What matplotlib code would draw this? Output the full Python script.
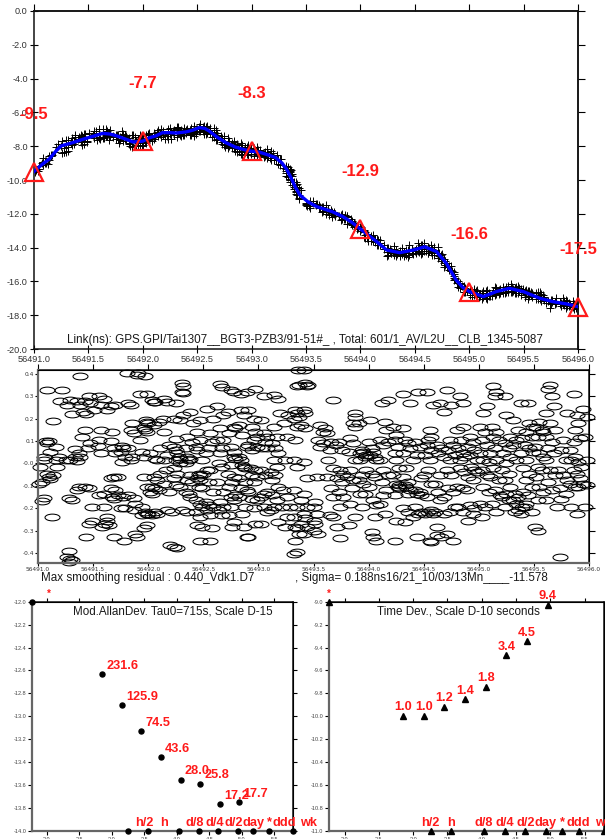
import numpy as np
import matplotlib
matplotlib.use("Agg")
import matplotlib.pyplot as plt
from matplotlib.path import Path
from matplotlib.transforms import Affine2D
from matplotlib.ticker import FormatStrFormatter

plt.rcParams['font.family'] = ['Liberation Sans', 'DejaVu Sans']
plt.rcParams['axes.unicode_minus'] = False

MJD0 = 56491.0

# smoothed link (ns) versus day offset from MJD0
smooth_day = [0.00, 0.07, 0.14, 0.20, 0.25, 0.35, 0.45, 0.55, 0.63, 0.70, 0.76, 0.85,
              0.91, 1.00, 1.06, 1.12, 1.18, 1.25, 1.31, 1.40, 1.46, 1.52, 1.57, 1.61,
              1.68, 1.76, 1.85, 1.93, 2.00, 2.07, 2.13, 2.22, 2.28, 2.32, 2.36, 2.40,
              2.445, 2.52, 2.60, 2.74, 2.84, 2.92, 3.00, 3.08, 3.15, 3.24, 3.36, 3.49,
              3.59, 3.70, 3.79, 3.88, 3.94, 4.00, 4.13, 4.25, 4.37, 4.50, 4.65, 4.77,
              4.90, 5.00]
smooth_ns = [-9.5, -9.1, -8.76, -8.3, -7.98, -7.8, -7.59, -7.4, -7.24, -7.28, -7.39, -7.6,
             -7.75, -7.7, -7.5, -7.39, -7.2, -7.2, -7.22, -7.15, -7.05, -6.9, -6.95, -7.1,
             -7.45, -7.78, -8.05, -8.2, -8.3, -8.35, -8.47, -8.67, -9.0, -9.35, -9.84, -10.4,
             -10.9, -11.3, -11.58, -11.87, -12.17, -12.5, -12.9, -13.3, -13.65, -14.14, -14.3, -14.14,
             -13.95, -14.24, -14.93, -15.92, -16.35, -16.6, -16.9, -16.6, -16.41, -16.61, -17.0, -17.2,
             -17.34, -17.5]

# daily values marked with triangles
node_day = [0, 1, 2, 3, 4, 5]
node_ns = [-9.5, -7.7, -8.3, -12.9, -16.6, -17.5]

# smoothing residuals (day offset, ns)
residuals = [
    (0.07, .10), (0.10, .10), (0.08, .09), (0.11, .05), (0.05, .03), (0.05, .015), (0.02, -.015),
    (0.08, -.045), (0.10, -.06), (0.11, -.07), (0.04, -.085), (0.01, -.09), (0.05, -.155), (0.04, -.17),
    (0.08, .33), (0.22, .33), (0.14, .19), (0.16, .075), (0.19, .03), (0.16, .015), (0.14, -.05),
    (0.13, -.24), (0.17, -.015), (0.20, .28), (0.29, .285), (0.26, .26), (0.31, .22), (0.25, .015),
    (0.34, .03), (0.29, .015), (0.28, -.155), (0.31, -.165), (0.28, -.39), (0.29, -.425), (0.31, -.43),
    (0.28, -.44), (0.26, -.42), (0.35, .28), (0.38, .26), (0.41, .23), (0.40, .12), (0.34, .065),
    (0.37, .045), (0.38, .03), (0.35, .01), (0.35, -.12), (0.37, -.105), (0.38, .39), (0.43, .28),
    (0.46, .30), (0.47, .27), (0.51, .24), (0.44, .22), (0.43, .15), (0.47, .09), (0.45, .067),
    (0.43, -.105), (0.46, -.11), (0.49, -.195), (0.49, -.255), (0.46, -.27), (0.44, -.33), (0.55, .30),
    (0.60, .29), (0.57, .26), (0.63, .24), (0.57, .15), (0.55, .105), (0.54, .078), (0.57, .045),
    (0.55, -.14), (0.60, -.135), (0.60, -.195), (0.63, -.255), (0.64, -.275), (0.61, -.27), (0.58, -.285),
    (0.63, -.24), (0.66, .255), (0.70, .26), (0.67, .14), (0.66, .10), (0.69, .067), (0.70, .045),
    (0.66, -.067), (0.69, -.06), (0.66, -.11), (0.70, -.12), (0.67, -.15), (0.69, -.157), (0.69, -.33),
    (0.73, -.06), (0.76, .08), (0.77, .067), (0.75, .05), (0.79, .03), (0.76, .007), (0.73, -.14),
    (0.77, -.15), (0.79, -.20), (0.75, -.20), (0.78, -.345), (0.82, .27), (0.81, .405), (0.84, .26),
    (0.85, .18), (0.84, .15), (0.87, .135), (0.82, .067), (0.85, .03), (0.84, .015), (0.82, -.14),
    (0.87, -.155), (0.88, -.18), (0.87, -.21), (0.88, -.315), (0.90, -.33), (0.91, .405), (0.90, .395),
    (0.93, .31), (0.99, .31), (0.97, .39), (0.98, .195), (0.99, .185), (1.00, .18), (0.96, .157),
    (0.97, .15), (0.99, .14), (0.93, .105), (0.94, .052), (0.96, .03), (0.96, -.06), (0.99, -.105),
    (0.94, -.195), (0.97, -.215), (0.99, -.225), (1.00, -.225), (0.94, -.23), (0.99, -.275), (0.96, -.29),
    (1.03, .285), (1.05, .275), (1.06, .275), (1.10, .185), (1.05, .17), (1.02, .045), (1.06, .022),
    (1.08, .015), (1.05, -.06), (1.08, -.075), (1.03, -.105), (1.06, -.11), (1.10, -.12), (1.02, -.127),
    (1.03, -.135), (1.06, -.217), (1.08, -.225), (1.03, -.232), (1.14, .29), (1.17, .275), (1.13, .20),
    (1.14, .14), (1.11, .067), (1.19, .082), (1.17, .037), (1.14, .015), (1.16, -.03), (1.11, -.045),
    (1.14, -.09), (1.19, -.127), (1.17, -.21), (1.20, -.365), (1.23, -.373), (1.25, .27), (1.31, .36),
    (1.32, .345), (1.31, .32), (1.32, .315), (1.23, .20), (1.29, .195), (1.25, .11), (1.23, .075),
    (1.25, .06), (1.26, .045), (1.28, .03), (1.29, .022), (1.25, .015), (1.29, .0), (1.23, -.022),
    (1.26, -.045), (1.23, -.067), (1.25, -.097), (1.29, -.105), (1.22, -.217), (1.26, -.38), (1.32, .215),
    (1.38, .23), (1.35, .12), (1.40, .097), (1.34, .067), (1.35, .03), (1.38, .022), (1.37, .015),
    (1.34, .0), (1.38, -.052), (1.35, -.075), (1.40, -.082), (1.34, -.127), (1.37, -.135), (1.38, -.15),
    (1.31, -.21), (1.35, -.217), (1.41, .18), (1.47, .195), (1.44, .14), (1.47, .105), (1.43, .075),
    (1.44, .06), (1.49, .015), (1.46, -.045), (1.47, -.052), (1.44, -.067), (1.47, -.075), (1.46, -.105),
    (1.49, -.11), (1.43, -.165), (1.47, -.18), (1.49, -.195), (1.43, -.217), (1.47, -.24), (1.44, -.275),
    (1.49, -.285), (1.47, -.345), (1.53, .245), (1.59, .20), (1.56, .135), (1.58, .097), (1.55, .067),
    (1.52, .045), (1.53, -.03), (1.56, -.03), (1.50, -.045), (1.55, -.082), (1.59, -.127), (1.52, -.172),
    (1.55, -.187), (1.59, -.195), (1.53, -.21), (1.56, -.23), (1.58, -.29), (1.56, -.345), (1.65, .355),
    (1.67, .34), (1.62, .255), (1.68, .215), (1.65, .157), (1.62, .105), (1.68, .105), (1.67, .067),
    (1.65, .045), (1.64, .0), (1.67, -.015), (1.62, -.082), (1.68, -.127), (1.65, -.172), (1.68, -.195),
    (1.64, -.21), (1.67, -.23), (1.75, .33), (1.78, .32), (1.72, .23), (1.78, .165), (1.79, .157),
    (1.73, .135), (1.75, .075), (1.78, .052), (1.78, .03), (1.79, .022), (1.75, -.007), (1.72, -.045),
    (1.78, -.06), (1.76, -.082), (1.73, -.105), (1.79, -.142), (1.75, -.15), (1.78, -.165), (1.75, -.195),
    (1.73, -.232), (1.78, -.26), (1.76, -.283), (1.84, .31), (1.90, .32), (1.84, .24), (1.87, .215),
    (1.82, .17), (1.85, .127), (1.90, .075), (1.82, .03), (1.84, .015), (1.85, -.007), (1.87, -.015),
    (1.88, -.022), (1.82, -.067), (1.88, -.082), (1.84, -.11), (1.90, -.12), (1.82, -.15), (1.88, -.195),
    (1.85, -.225), (1.87, -.285), (1.90, -.33), (1.97, .335), (1.91, .24), (1.96, .20), (1.94, .165),
    (1.97, .142), (1.99, .12), (1.96, .105), (1.91, .082), (1.94, .06), (1.99, .075), (1.93, -.022),
    (1.97, -.03), (1.94, -.052), (1.99, -.06), (1.96, -.082), (1.91, -.127), (1.94, -.157), (1.99, -.165),
    (1.96, -.20), (1.97, -.27), (1.91, -.33), (2.05, .30), (2.02, .195), (2.05, .135), (2.08, .12),
    (2.06, .097), (2.03, .067), (2.08, .067), (2.02, -.03), (2.06, -.052), (2.05, -.135), (2.08, -.127),
    (2.02, -.15), (2.05, -.195), (2.08, -.217), (2.02, -.27), (2.14, .305), (2.18, .29), (2.20, .225),
    (2.14, .165), (2.17, .12), (2.12, .09), (2.15, .067), (2.18, .045), (2.14, .015), (2.17, -.015),
    (2.11, -.037), (2.15, -.052), (2.12, -.075), (2.18, -.105), (2.12, -.142), (2.17, -.165), (2.14, -.195),
    (2.11, -.21), (2.18, -.26), (2.24, .015), (2.23, .18), (2.27, .215), (2.26, .12), (2.22, -.12),
    (2.26, -.15), (2.21, -.195), (2.26, -.24), (2.24, -.285), (2.29, -.195), (2.36, .42), (2.35, .345),
    (2.37, .35), (2.33, .24), (2.35, .225), (2.37, .21), (2.32, .20), (2.35, .165), (2.33, .105),
    (2.32, .015), (2.35, -.015), (2.32, -.12), (2.35, -.195), (2.32, -.24), (2.33, -.285), (2.35, -.29),
    (2.37, -.315), (2.33, -.345), (2.32, -.405), (2.35, -.395), (2.41, .42), (2.42, .36), (2.44, .345),
    (2.45, .35), (2.41, .24), (2.42, .225), (2.39, .17), (2.42, .157), (2.41, .007), (2.44, -.067),
    (2.41, -.135), (2.39, -.165), (2.44, -.195), (2.41, -.225), (2.42, -.245), (2.39, -.27), (2.44, -.285),
    (2.41, -.315), (2.56, .17), (2.60, .157), (2.59, .142), (2.54, .105), (2.59, .09), (2.56, .075),
    (2.53, -.06), (2.51, -.172), (2.50, -.195), (2.53, -.225), (2.50, -.255), (2.51, -.27), (2.50, -.30),
    (2.54, -.315), (2.68, .285), (2.62, .135), (2.66, .097), (2.65, .06), (2.63, .015), (2.68, -.022),
    (2.62, -.06), (2.66, -.11), (2.68, -.15), (2.65, -.232), (2.68, -.24), (2.71, -.285), (2.74, -.335),
    (2.74, -.03), (2.77, -.045), (2.71, -.067), (2.76, -.082), (2.73, -.127), (2.77, -.15), (2.74, -.195),
    (2.76, .06), (2.70, .082), (2.73, .097), (2.88, .225), (2.88, .21), (2.86, .18), (2.88, .165),
    (2.83, .112), (2.86, .09), (2.82, .052), (2.88, .015), (2.83, -.03), (2.80, -.06), (2.86, -.075),
    (2.85, -.11), (2.83, -.18), (2.88, -.24), (2.82, -.275), (2.91, .18), (2.94, .06), (2.95, .052),
    (2.92, .045), (2.98, .037), (2.97, .03), (2.92, .015), (2.98, -.03), (2.94, -.052), (2.91, -.075),
    (2.95, -.09), (2.92, -.135), (2.97, -.135), (2.94, -.195), (3.01, .195), (3.00, .097), (3.03, .067),
    (3.04, .052), (3.01, .037), (3.06, .03), (3.07, .015), (3.03, -.045), (3.06, -.06), (3.00, -.105),
    (3.04, -.165), (3.07, -.187), (3.06, -.24), (3.03, -.305), (3.07, -.345), (3.04, -.33), (3.12, .27),
    (3.18, .285), (3.15, .185), (3.16, .15), (3.10, .105), (3.13, .082), (3.18, .097), (3.10, .015),
    (3.13, -.03), (3.18, -.052), (3.12, -.082), (3.16, -.12), (3.13, -.142), (3.10, -.18), (3.15, -.225),
    (3.22, .165), (3.25, .127), (3.24, .105), (3.27, .075), (3.24, .045), (3.25, .015), (3.28, -.022),
    (3.22, -.052), (3.25, -.09), (3.28, -.097), (3.27, -.105), (3.24, -.142), (3.28, -.11), (3.25, -.255),
    (3.24, -.345), (3.31, .31), (3.38, .27), (3.31, .157), (3.33, .105), (3.36, .09), (3.38, .067),
    (3.31, .045), (3.34, -.022), (3.31, -.06), (3.36, -.082), (3.33, -.097), (3.34, -.105), (3.38, -.12),
    (3.36, -.135), (3.31, -.20), (3.36, -.217), (3.33, -.262), (3.45, .32), (3.42, .097), (3.47, .075),
    (3.44, .037), (3.40, .015), (3.48, -.067), (3.42, -.12), (3.47, -.127), (3.44, -.135), (3.48, -.142),
    (3.42, -.195), (3.48, -.217), (3.45, -.225), (3.40, -.24), (3.44, -.33), (3.53, .32), (3.58, .26),
    (3.56, .15), (3.57, .12), (3.54, .105), (3.53, .082), (3.57, .06), (3.51, .037), (3.56, .015),
    (3.54, -.03), (3.50, -.052), (3.57, -.09), (3.53, -.15), (3.57, -.21), (3.58, -.225), (3.54, -.217),
    (3.51, -.225), (3.56, -.345), (3.57, -.35), (3.65, .27), (3.68, .23), (3.62, .082), (3.66, .067),
    (3.63, .045), (3.68, .03), (3.65, -.052), (3.60, -.09), (3.63, -.127), (3.68, -.15), (3.65, -.165),
    (3.60, -.217), (3.68, -.225), (3.62, -.285), (3.66, -.33), (3.62, -.32), (3.71, .33), (3.75, .26),
    (3.74, .105), (3.77, .082), (3.72, .06), (3.78, .037), (3.74, .015), (3.71, -.03), (3.75, -.052),
    (3.72, -.11), (3.77, -.127), (3.74, -.217), (3.78, -.195), (3.71, -.315), (3.77, -.345), (3.83, .30),
    (3.86, .27), (3.80, .15), (3.86, .165), (3.84, .105), (3.81, .067), (3.86, .045), (3.83, .015),
    (3.87, .03), (3.83, -.022), (3.87, -.037), (3.80, -.105), (3.86, -.11), (3.89, -.12), (3.81, -.195),
    (3.86, -.217), (3.92, .12), (3.95, .097), (3.90, .075), (3.96, .06), (3.92, .037), (3.98, .015),
    (3.93, -.015), (3.96, -.03), (3.90, -.06), (3.95, -.075), (3.98, -.037), (3.92, -.187), (3.96, -.20),
    (3.95, -.225), (3.90, -.255), (4.07, .255), (4.04, .225), (4.01, .165), (4.06, .142), (4.03, .105),
    (4.07, .082), (4.01, .045), (4.04, .015), (4.09, .007), (4.03, -.03), (4.07, -.052), (4.04, -.105),
    (4.09, -.127), (4.01, -.18), (4.06, -.195), (4.03, -.24), (4.13, .345), (4.16, .32), (4.15, .30),
    (4.12, .165), (4.16, .142), (4.13, .12), (4.18, .105), (4.15, .067), (4.10, .045), (4.16, .015),
    (4.13, -.022), (4.10, -.06), (4.18, -.075), (4.15, -.12), (4.19, -.142), (4.12, -.18), (4.16, -.217),
    (4.24, .30), (4.25, .215), (4.28, .12), (4.24, .09), (4.27, .067), (4.22, .045), (4.28, .03),
    (4.25, .0), (4.21, -.03), (4.27, -.045), (4.24, -.075), (4.28, -.105), (4.25, -.135), (4.21, -.15),
    (4.27, -.165), (4.24, -.195), (4.33, -.135), (4.36, -.15), (4.31, -.165), (4.34, -.18), (4.39, -.195),
    (4.36, -.21), (4.38, -.225), (4.33, -.217), (4.34, .015), (4.38, .045), (4.31, .082), (4.39, .112),
    (4.36, .15), (4.31, .195), (4.38, .27), (4.34, .105), (4.45, .27), (4.46, .18), (4.49, .165),
    (4.43, .142), (4.48, .12), (4.42, .082), (4.46, .067), (4.49, .052), (4.43, .015), (4.40, -.022),
    (4.46, -.045), (4.43, -.075), (4.48, -.105), (4.40, -.127), (4.45, -.142), (4.42, -.195), (4.48, -.217),
    (4.43, -.18), (4.55, .185), (4.52, .165), (4.57, .15), (4.58, .142), (4.54, .12), (4.51, .075),
    (4.55, .045), (4.58, .03), (4.54, -.015), (4.57, -.03), (4.52, -.06), (4.55, -.105), (4.58, -.127),
    (4.54, -.165), (4.51, -.285), (4.54, -.30), (4.65, .35), (4.63, .335), (4.66, .30), (4.68, .255),
    (4.61, .225), (4.65, .18), (4.69, .15), (4.61, .12), (4.66, .097), (4.63, .067), (4.68, .045),
    (4.61, .015), (4.65, -.03), (4.69, -.052), (4.63, -.082), (4.66, -.12), (4.61, -.165), (4.75, .06),
    (4.76, .105), (4.80, .225), (4.74, -.42), (4.79, .015), (4.72, -.03), (4.76, -.052), (4.80, -.075),
    (4.74, -.11), (4.79, -.135), (4.75, -.157), (4.71, -.195), (4.86, .31), (4.89, .215), (4.90, .18),
    (4.87, .15), (4.92, .112), (4.86, .097), (4.83, .06), (4.87, .03), (4.84, .015), (4.90, .007),
    (4.93, -.015), (4.86, -.03), (4.89, -.045), (4.92, -.067), (4.83, -.09), (4.87, -.105), (4.90, -.105),
    (4.95, -.09), (4.98, -.097), (4.84, -.195), (4.96, -.195), (4.89, -.225), (4.98, .015), (4.96, .12),
    (4.98, .21), (4.95, .245),
]

# stability statistics
tau_s = [715, 1430, 2860, 5720, 11440, 22880, 45760, 91520]
mdev_e15 = [231.6, 125.9, 74.5, 43.6, 28.0, 25.8, 17.2, 17.7]
tdev_e10 = [1.0, 1.0, 1.2, 1.4, 1.8, 3.4, 4.5, 9.4]

# reference averaging spans
span_names = ['h/2', 'h', 'd/8', 'd/4', 'd/2', 'day', '*', 'ddd', 'wk']
span_s = [1800, 3600, 10800, 21600, 43200, 86400, 150000, 259200, 604800]
tau_range_s = [60, 604800]

RED = '#ff1a1a'
GRAY = '#333333'
W, H = 605, 839


def rect(l, t, r, b):
    return [l / W, 1 - b / H, (r - l) / W, (b - t) / H]


def outer_ticks(ax, xt, yt, length=4):
    sx = ax.secondary_xaxis('top')
    sx.set_xticks(xt)
    sx.tick_params(direction='out', length=length, width=0.8, labeltop=False)
    sy = ax.secondary_yaxis('right')
    sy.set_yticks(yt)
    sy.tick_params(direction='out', length=length, width=0.8, labelright=False)
    for s in (sx, sy):
        for sp in s.spines.values():
            sp.set_color('#111111')
            sp.set_linewidth(1.1)


fig = plt.figure(figsize=(W / 100, H / 100), dpi=100)

# ---------------- link time series ----------------
ax1 = fig.add_axes(rect(34, 11, 578, 349))
res_t = np.array([p[0] for p in residuals])
res_v = np.array([p[1] for p in residuals])
raw = np.interp(res_t, smooth_day, smooth_ns) + res_v
ax1.plot(MJD0 + res_t, raw, ls='none', marker='+', ms=5.5, mew=0.7, color='black', zorder=2)
ax1.plot(MJD0 + np.array(smooth_day), smooth_ns, color='#0000ff', lw=2.4, zorder=3)
ax1.plot(MJD0 + np.array(node_day), node_ns, ls='none', marker='^', ms=12.5, mfc='none',
         mec=RED, mew=1.6, zorder=4, clip_on=False)
for d, v in zip(node_day, node_ns):
    ax1.text(MJD0 + d, v + 3.4, f'{v:.1f}', color=RED, fontsize=12, fontweight='bold',
             ha='center', va='center', zorder=5)
ax1.set_xlim(MJD0, MJD0 + 5)
ax1.set_ylim(-20, 0)
xt1 = MJD0 + np.arange(0, 5.01, 0.5)
yt1 = np.arange(-20, 0.1, 2)
ax1.set_xticks(xt1)
ax1.set_yticks(yt1)
ax1.xaxis.set_major_formatter(FormatStrFormatter('%.1f'))
ax1.yaxis.set_major_formatter(FormatStrFormatter('%.1f'))
ax1.tick_params(direction='inout', length=6, width=0.8, labelsize=6.6, labelcolor=GRAY, pad=1.5)
for sp in ax1.spines.values():
    sp.set_color('#111111')
    sp.set_linewidth(1.1)
outer_ticks(ax1, xt1, yt1, 5)
fig.text(305 / W, 1 - 340 / H,
         'Link(ns): GPS.GPI/Tai1307__BGT3-PZB3/91-51#_ , Total: 601/1_AV/L2U__CLB_1345-5087',
         ha='center', va='center', fontsize=8.4, color='#1a1a1a')

# ---------------- residuals ----------------
ax2 = fig.add_axes(rect(38, 370, 589, 563))
ellipse = Path.unit_circle().transformed(Affine2D().scale(1.0, 0.45))
ax2.plot(MJD0 + res_t, res_v, ls='none', marker=ellipse, ms=10.8, mfc='none', mec='black',
         mew=0.75, clip_on=False)
ax2.set_xlim(MJD0, MJD0 + 5)
ax2.set_ylim(-0.445, 0.418)
yt2 = np.arange(-0.4, 0.41, 0.1)
ax2.set_xticks(xt1)
ax2.set_yticks(yt2)
ax2.xaxis.set_major_formatter(FormatStrFormatter('%.1f'))
ax2.yaxis.set_major_formatter(FormatStrFormatter('%.1f'))
ax2.tick_params(direction='out', length=2, width=0.8, labelsize=4.2, labelcolor=GRAY, pad=0.6)
for lbl in ax2.get_xticklabels() + ax2.get_yticklabels():
    lbl.set_family('DejaVu Sans')
ax2.spines['left'].set_color('#666666')
ax2.spines['bottom'].set_color('#666666')
ax2.spines['left'].set_linewidth(1.6)
ax2.spines['bottom'].set_linewidth(1.6)
outer_ticks(ax2, xt1, yt2, 4)
fig.text(41 / W, 1 - 577.5 / H, 'Max smoothing residual : 0.440_Vdk1.D7',
         ha='left', va='center', fontsize=8.4, color='#1a1a1a')
fig.text(295 / W, 1 - 577.5 / H, ', Sigma= 0.188ns16/21_10/03/13Mn____-11.578',
         ha='left', va='center', fontsize=8.4, color='#1a1a1a')

# ---------------- stability panels ----------------
narrow = ['Liberation Sans Narrow', 'Liberation Sans']
log_tau = np.log10(tau_s)
log_span = np.log10(span_s)
xt3 = np.arange(2.0, 5.51, 0.5)


def stab_frame(ax, ylo, yhi, title, title_x):
    ax.set_xlim(np.log10(tau_range_s[0]), np.log10(tau_range_s[1]))
    ax.set_ylim(ylo, yhi)
    yt = np.arange(ylo, yhi + 0.01, 0.2)
    ax.set_xticks(xt3)
    ax.set_yticks(yt)
    ax.xaxis.set_major_formatter(FormatStrFormatter('%.1f'))
    ax.yaxis.set_major_formatter(FormatStrFormatter('%.1f'))
    ax.tick_params(direction='out', length=3, width=0.8, labelsize=4, labelcolor='#444444', pad=1.2)
    ax.spines['left'].set_color('#666666')
    ax.spines['bottom'].set_color('#666666')
    ax.spines['left'].set_linewidth(1.6)
    ax.spines['bottom'].set_linewidth(1.6)
    outer_ticks(ax, xt3, yt, 3)
    fig.text(title_x / W, 1 - 611 / H, title, ha='center', va='center', fontsize=8.4,
             color='#1a1a1a')


ax3 = fig.add_axes(rect(32.3, 601.7, 292.7, 830.7))
stab_frame(ax3, -14.0, -12.0, 'Mod.AllanDev. Tau0=715s, Scale D-15', 173)
mdev_log = np.log10(np.array(mdev_e15) * 1e-15)
ax3.plot(log_tau, mdev_log, ls='none', marker='o', ms=3.6, color='black', clip_on=False, zorder=4)
for x, y, v in zip(log_tau, mdev_log, mdev_e15):
    ax3.annotate(f'{v:.1f}', (x, y), xytext=(3, 1.5), textcoords='offset points', ha='left',
                 va='bottom', color=RED, fontsize=9.2, fontweight='bold', family=narrow)
ax3.plot(log_span, [-14.0] * len(log_span), ls='none', marker='o', ms=3.6, color='black',
         clip_on=False, zorder=4)
ax3.plot([np.log10(tau_range_s[0])], [-12.0], ls='none', marker='o', ms=3.6, color='black',
         clip_on=False, zorder=4)
for x, name in zip(log_span, span_names):
    ax3.annotate(name, (x, -14.0), xytext=(11.5, 1.5), textcoords='offset points', ha='center',
                 va='bottom', color=RED, fontsize=9.2, fontweight='bold', family=narrow,
                 annotation_clip=False)
ax3.annotate('*', (2.03, -12.0), xytext=(0, 2), textcoords='offset points', ha='center',
             va='bottom', color=RED, fontsize=7, fontweight='bold', annotation_clip=False)

ax4 = fig.add_axes(rect(329.3, 601.7, 604, 830.7))
stab_frame(ax4, -11.0, -9.0, 'Time Dev., Scale D-10 seconds', 458)
tdev_log = np.log10(np.array(tdev_e10) * 1e-10)
ax4.plot(log_tau, tdev_log, ls='none', marker='^', ms=4.5, color='black', clip_on=False, zorder=4)
for x, y, v in zip(log_tau, tdev_log, tdev_e10):
    ax4.annotate(f'{v:.1f}', (x, y), xytext=(0, 2), textcoords='offset points', ha='center',
                 va='bottom', color=RED, fontsize=9.2, fontweight='bold', family=narrow,
                 annotation_clip=False)
ax4.plot(log_span, [-11.0] * len(log_span), ls='none', marker='^', ms=4.5, color='black',
         clip_on=False, zorder=4)
ax4.plot([np.log10(tau_range_s[0])], [-9.0], ls='none', marker='^', ms=4.5, color='black',
         clip_on=False, zorder=4)
for x, name in zip(log_span, span_names):
    ax4.annotate(name, (x, -11.0), xytext=(0, 1.5), textcoords='offset points', ha='center',
                 va='bottom', color=RED, fontsize=9.2, fontweight='bold', family=narrow,
                 annotation_clip=False)
ax4.annotate('*', (np.log10(tau_range_s[0]), -9.0), xytext=(0, 2), textcoords='offset points',
             ha='center', va='bottom', color=RED, fontsize=7, fontweight='bold',
             annotation_clip=False)

fig.savefig('out.png', dpi=100)
